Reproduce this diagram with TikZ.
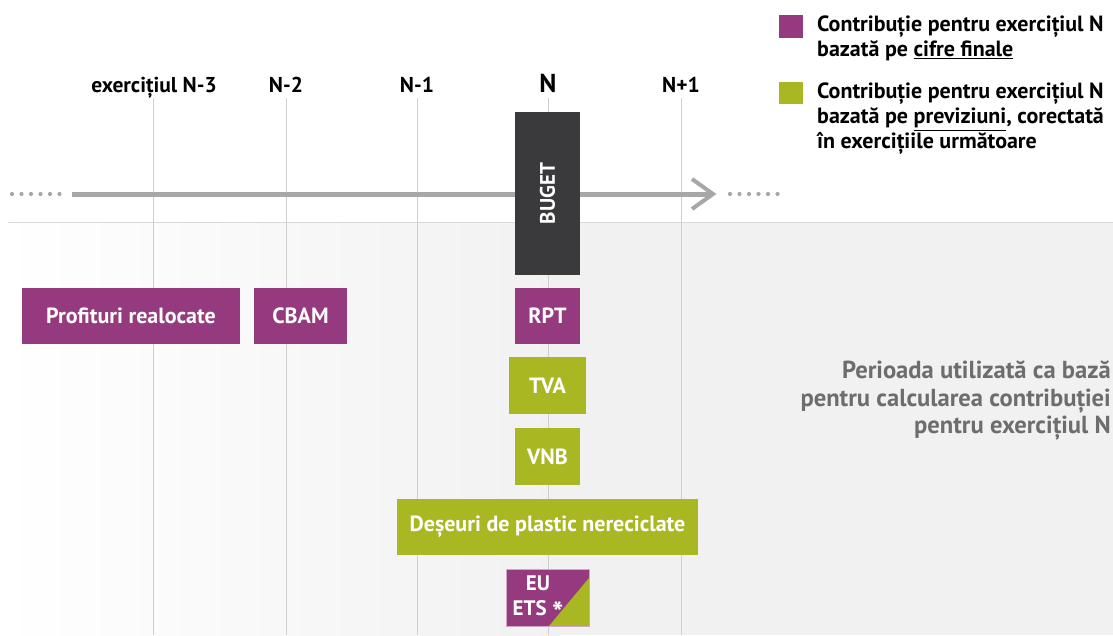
\documentclass[tikz,border=0pt]{standalone}
\usepackage{fontspec}
\setmainfont{PT Sans}
\usetikzlibrary{arrows.meta}
\definecolor{purp}{HTML}{963A7F}
\definecolor{lime}{HTML}{A9B723}
\definecolor{darkbox}{HTML}{3A3A3C}
\definecolor{axisgray}{HTML}{A7A7A9}
\definecolor{gridgray}{HTML}{CFCFCF}
\definecolor{bggray}{HTML}{F1F1F1}
\definecolor{notegray}{HTML}{6D6D6D}
\begin{document}
\begin{tikzpicture}[x=1pt,y=-1pt,
  boxtext/.style={inner sep=0pt, text=white, font=\bfseries\fontsize{22}{25}\selectfont},
  pbox/.style={boxtext, fill=purp},
  gbox/.style={boxtext, fill=lime},
  yearlabel/.style={font=\bfseries\fontsize{21.5}{24}\selectfont, anchor=base, inner sep=0pt},
  gridline/.style={draw=gridgray, line width=0.8pt},
  dotstyle/.style={fill=axisgray, draw=none},
  legtext/.style={font=\bfseries\fontsize{22}{25}\selectfont, align=left, anchor=north west, inner sep=0pt}
]
\useasboundingbox (0,0) rectangle (1113,635);
% background
\shade[left color=white, right color=bggray] (0,222) rectangle (560,635);
\fill[bggray] (560,222) rectangle (1113,635);
\draw[draw=gridgray!80, line width=0.8pt] (8,222) -- (1113,222);

% year labels
\node[yearlabel] (y3) at (154,92) {exercițiul N-3};
\node[yearlabel] (y2) at (286,92) {N-2};
\node[yearlabel] (y1) at (417,92) {N-1};
\node[yearlabel, font=\bfseries\fontsize{26}{28}\selectfont] (y0) at (548,92) {N};
\node[yearlabel] (yp) at (681,92) {N+1};

% grid lines
\foreach \x in {153,286,417,548,681}{
  \draw[gridline] (\x,98) -- (\x,635);
}

% timeline
\coordinate (tstart) at (72,194);
\coordinate (tend) at (712,194);
\draw[axisgray, line width=5pt] (tstart) -- (tend);
\draw[axisgray, line width=4pt, line join=miter] (692,179) -- (713,194) -- (692,209);
\foreach \x in {12,21.5,31,40.5,50,59.5}{\fill[dotstyle] (\x,194) circle (2.1);}
\foreach \x in {730,739.5,749,758.5,768,777.5}{\fill[dotstyle] (\x,194) circle (2.1);}

% budget box
\node[fill=darkbox, minimum width=65pt, minimum height=163pt, inner sep=0pt] (buget) at (547.5,193.5) {};
\node[boxtext, rotate=90, font=\bfseries\fontsize{21}{24}\selectfont] (bugettext) at (buget.center) {BUGET};

% boxes
\node[pbox, minimum width=218pt, minimum height=56pt] (prof) at (131,316) {Profituri realocate};
\node[pbox, minimum width=93pt, minimum height=56pt] (cbam) at (300.5,316) {CBAM};
\node[pbox, minimum width=65pt, minimum height=56pt] (rpt) at (547.5,316) {RPT};
\node[gbox, minimum width=77pt, minimum height=57pt] (tva) at (547.5,385.5) {TVA};
\node[gbox, minimum width=65pt, minimum height=57pt] (vnb) at (547.5,456.5) {VNB};
\node[gbox, minimum width=301pt, minimum height=56pt] (plastic) at (547.5,527) {Deșeuri de plastic nereciclate};

% EU ETS box
\fill[purp] (506,569) rectangle (589,626);
\fill[lime] (589,578) -- (589,626) -- (549,626) -- cycle;
\draw[purp!45, line width=0.8pt] (506,569) rectangle (589,626);
\node[boxtext, align=center, font=\bfseries\fontsize{21}{25}\selectfont] (ets) at (538,600) {EU\\ETS {\fontsize{30}{30}\selectfont\raisebox{-0.55ex}{*}}};

% legend
\fill[purp] (779,15) rectangle (803,38);
\node[legtext] (leg1) at (817,16) {Contribuție pentru exercițiul N\\bazată pe \underline{cifre finale}};
\fill[lime] (779,82) rectangle (803,104);
\node[legtext] (leg2) at (817,83) {Contribuție pentru exercițiul N\\bazată pe \underline{previziuni}, corectată\\în exercițiile următoare};

% note
\node[font=\bfseries\fontsize{24.6}{27.5}\selectfont, text=notegray, align=right, anchor=north east, inner sep=0pt] (note) at (1111,361) {Perioada utilizată ca bază\\pentru calcularea contribuției\\pentru exercițiul N};
\end{tikzpicture}
\end{document}
